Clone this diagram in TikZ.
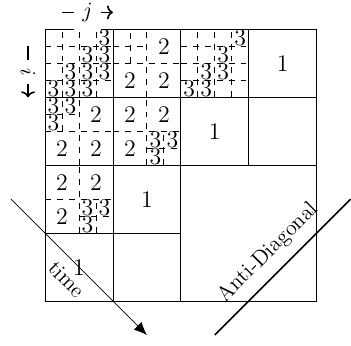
\documentclass[tikz,border=0pt]{standalone}
\usetikzlibrary{positioning, arrows.meta}

\begin{document}
\begin{tikzpicture}%
    [x=0.3cm, y=0.3cm,
    >={To[length=3pt, width=7pt]},
    block/.style={draw=black, thin},
    split/.style={draw=black, thin, dashed},
    num/.style={font=\large, inner sep=0pt},
    tag/.style={font=\fontsize{11}{13}\selectfont}
    ]
    \useasboundingbox (-2.65,-2.59) rectangle (18.02,17.73);

    % splits inside the blocks
    \foreach \a in {1,2,3} {
      \draw[split] (\a,12) -- (\a,16)    (0,12+\a) -- (4,12+\a);
      \draw[split] (8+\a,12) -- (8+\a,16) (8,12+\a) -- (12,12+\a);
    }
    \draw[split] (6,12) -- (6,16)  (4,14) -- (8,14)  (5,14) -- (5,16)  (4,15) -- (6,15);
    \draw[split] (2,8) -- (2,12)   (0,10) -- (4,10)  (1,10) -- (1,12)  (0,11) -- (2,11);
    \draw[split] (6,8) -- (6,12)   (4,10) -- (8,10)  (7,8) -- (7,10)   (6,9) -- (8,9);
    \draw[split] (2,4) -- (2,8)    (0,6) -- (4,6)    (3,4) -- (3,6)    (2,5) -- (4,5);

    % blocks
    \draw[block] (0,0) rectangle (16,16);
    \draw[block] (4,0) -- (4,16)  (8,0) -- (8,16)  (12,8) -- (12,16);
    \draw[block] (0,12) -- (16,12)  (0,8) -- (16,8)  (0,4) -- (8,4);

    % numbers
    \foreach \p/\q [count=\n] in {14/14, 10/10, 6/6, 2/2}
      \node[num] (one\n) at (\p,\q) {1};
    \foreach \p/\q [count=\n] in {7/15, 5/13, 7/13, 3/11, 1/9, 3/9,
                                  5/11, 7/11, 5/9, 1/7, 3/7, 1/5}
      \node[num] (two\n) at (\p,\q) {2};
    \foreach \p/\q [count=\n] in {3.5/15.5, 2.5/14.5, 3.5/14.5,
        1.5/13.5, 2.5/13.5, 3.5/13.5, 0.5/12.5, 1.5/12.5, 2.5/12.5,
        0.5/11.5, 1.5/11.5, 0.5/10.5,
        11.5/15.5, 10.5/14.5, 9.5/13.5, 10.5/13.5, 8.5/12.5, 9.5/12.5,
        6.5/9.5, 7.5/9.5, 6.5/8.5,
        2.5/5.5, 3.5/5.5, 2.5/4.5}
      \node[num] (three\n) at (\p,\q) {3};

    \coordinate (jfrom) at (1,17);
    \coordinate (jto)   at (4,17);
    \coordinate (ifrom) at (-1,15);
    \coordinate (ito)   at (-1,12);
    \coordinate (tfrom) at (-2,6);
    \coordinate (tto)   at (6,-2);
    \coordinate (afrom) at (10,-2);
    \coordinate (ato)   at (18,6);

    \path
    % FROM    STYLE             LABEL                                        TO
    (jfrom) edge[->, thick]   node[tag, fill=white, inner sep=4pt]  {$j$}   (jto)
    (ifrom) edge[->, thick]   node[tag, fill=white, inner sep=4pt, sloped] {$i$} (ito)
    (tfrom) edge[-{Latex[length=6.5pt, width=5.5pt]}]
                              node[tag, below=1.5pt, sloped]        {time}  (tto)
    (afrom) edge[thick]       node[tag, above=1.5pt, sloped]        {Anti-Diagonal} (ato)
    ;
\end{tikzpicture}
\end{document}
